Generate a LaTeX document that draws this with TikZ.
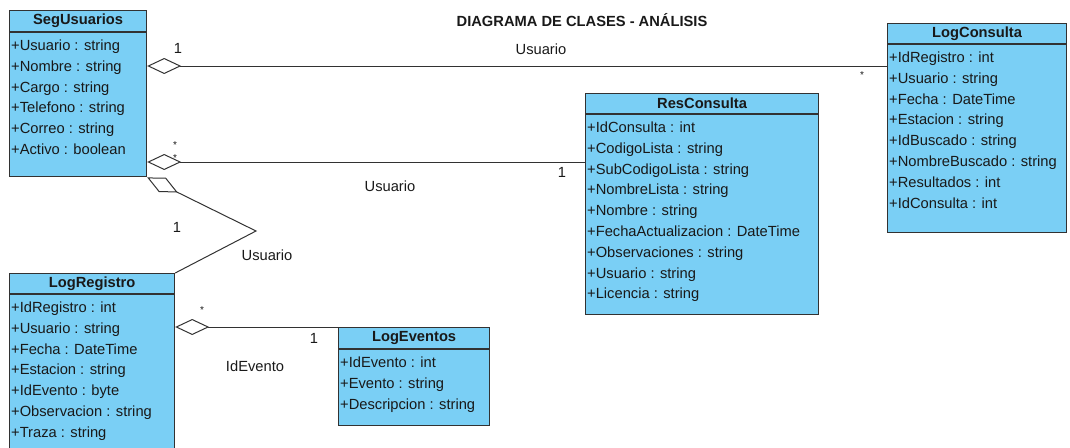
\documentclass[tikz,border=0pt]{standalone}
\usepackage{fontspec}
\setmainfont{Liberation Sans}
\usetikzlibrary{positioning,arrows.meta}
\definecolor{clsfill}{RGB}{122,207,245}
\definecolor{clsline}{RGB}{50,50,50}
\definecolor{txt}{RGB}{25,25,25}

\begin{document}
\begin{tikzpicture}[x=1pt,y=-1pt,
  every node/.style={font=\fontsize{14.7}{20.8}\selectfont, text=txt},
  clshead/.style={draw=clsline, fill=clsfill, line width=1.2pt, anchor=north west,
    inner sep=0pt, font=\fontsize{14.7}{20.8}\selectfont\bfseries},
  clsbody/.style={draw=clsline, fill=clsfill, line width=1.2pt, anchor=north, inner sep=0pt},
  attrs/.style={anchor=north west, align=left, inner xsep=2pt, inner ysep=7.5pt},
  assoc/.style={draw=clsline, line width=1pt},
  agg/.style={assoc, {Diamond[open,length=34pt,width=16pt]}-},
  lbl/.style={anchor=base, inner sep=0pt},
  many/.style={lbl, font=\fontsize{10}{12}\selectfont}
]
\useasboundingbox (0,0) rectangle (1070,447);

% title
\node[lbl, font=\fontsize{14.7}{20.8}\selectfont\bfseries] (title) at (582,27) {DIAGRAMA DE CLASES - ANÁLISIS};

% SegUsuarios
\node[clshead, minimum width=137pt, minimum height=21pt] (segh) at (9,10) {SegUsuarios};
\node[clsbody, minimum width=137pt, minimum height=144pt] (segb) at (segh.south) {};
\node[attrs] (sega) at (segb.north west) {+Usuario : string\\+Nombre : string\\+Cargo : string\\+Telefono : string\\+Correo : string\\+Activo : boolean};

% LogConsulta
\node[clshead, minimum width=179pt, minimum height=20pt] (logch) at (887,23) {LogConsulta};
\node[clsbody, minimum width=179pt, minimum height=188pt] (logcb) at (logch.south) {};
\node[attrs] (logca) at (logcb.north west) {+IdRegistro : int\\+Usuario : string\\+Fecha : DateTime\\+Estacion : string\\+IdBuscado : string\\+NombreBuscado : string\\+Resultados : int\\+IdConsulta : int};

% ResConsulta
\node[clshead, minimum width=233pt, minimum height=20pt] (resch) at (585,93) {ResConsulta};
\node[clsbody, minimum width=233pt, minimum height=200pt] (rescb) at (resch.south) {};
\node[attrs] (resca) at (rescb.north west) {+IdConsulta : int\\+CodigoLista : string\\+SubCodigoLista : string\\+NombreLista : string\\+Nombre : string\\+FechaActualizacion : DateTime\\+Observaciones : string\\+Usuario : string\\+Licencia : string};

% LogRegistro
\node[clshead, minimum width=165pt, minimum height=20pt] (logrh) at (9,273) {LogRegistro};
\node[clsbody, minimum width=165pt, minimum height=200pt] (logrb) at (logrh.south) {};
\node[attrs] (logra) at (logrb.north west) {+IdRegistro : int\\+Usuario : string\\+Fecha : DateTime\\+Estacion : string\\+IdEvento : byte\\+Observacion : string\\+Traza : string};

% LogEventos
\node[clshead, minimum width=151pt, minimum height=21pt] (logeh) at (338,327) {LogEventos};
\node[clsbody, minimum width=151pt, minimum height=76pt] (logeb) at (logeh.south) {};
\node[attrs] (logea) at (logeb.north west) {+IdEvento : int\\+Evento : string\\+Descripcion : string};

% associations
\coordinate (bend) at (256,231);
\draw[agg] (segb.east |- 0,66) -- (logcb.west |- 0,66);
\draw[agg] (segb.east |- 0,162) -- (rescb.west |- 0,162);
\draw[agg] (segb.south east) -- (bend) -- (logrh.north east);
\draw[agg] (logrb.east |- 0,327) -- (logeh.north west);

% multiplicities and roles
\node[lbl] (m1) at (178,53) {1};
\node[lbl] (r1) at (541,54) {Usuario};
\node[many] (m2) at (862,78) {*};
\node[many] (m3) at (175,148) {*};
\node[many] (m4) at (175,161) {*};
\node[lbl] (m5) at (562,177) {1};
\node[lbl] (r2) at (390,191) {Usuario};
\node[lbl] (m6) at (177,232) {1};
\node[lbl] (r3) at (267,260) {Usuario};
\node[many] (m7) at (202,313) {*};
\node[lbl] (m8) at (314,343) {1};
\node[lbl] (r4) at (255,371) {IdEvento};
\end{tikzpicture}
\end{document}
